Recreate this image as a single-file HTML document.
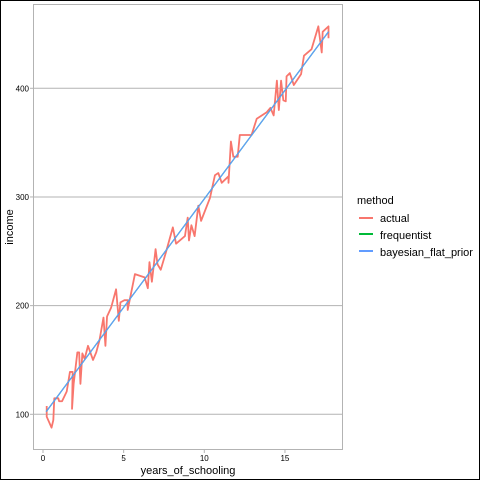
<!DOCTYPE html>
<html><head><meta charset="utf-8"><style>
body{margin:0;background:#fff}
svg{display:block;font-family:"Liberation Sans",Arial,sans-serif}
</style></head><body>
<svg id="chart" width="480" height="480">
<rect x="0.5" y="0.5" width="479" height="479" fill="#fff" stroke="#000"/>
<g id="grid"></g>
<rect x="33.5" y="4.5" width="309" height="445" fill="none" stroke="#b3b3b3"/>
<g id="marks"></g>
<g id="axes"></g>
<text x="188" y="474" font-size="11" fill="#000" text-anchor="middle">years_of_schooling</text>
<text transform="translate(13,227) rotate(-90)" font-size="11" fill="#000" text-anchor="middle">income</text>
<g>
<text x="357" y="204" font-size="11" fill="#000">method</text>
<line x1="359" y1="218" x2="373" y2="218" stroke="#F8766D" stroke-width="2"/>
<text x="380" y="222" font-size="11">actual</text>
<line x1="359" y1="234" x2="373" y2="234" stroke="#00BA38" stroke-width="2"/>
<text x="380" y="239" font-size="11">frequentist</text>
<line x1="359" y1="251" x2="373" y2="251" stroke="#619CFF" stroke-width="2"/>
<text x="380" y="256" font-size="11">bayesian_flat_prior</text>
</g>
</svg>
<script>
const actualX=[0.23,0.23,0.53,0.64,0.70,0.95,1.0,1.18,1.47,1.67,1.84,1.8,1.9,2.13,2.24,2.32,2.44,2.58,2.79,3.1,3.3,3.5,3.75,3.87,3.97,4.22,4.53,4.7,4.8,5.05,5.25,5.25,5.4,5.7,6.3,6.5,6.6,6.75,6.98,7.1,7.3,7.6,8.05,8.25,8.8,8.97,9.05,9.2,9.4,9.63,9.8,10.35,10.66,10.87,11.08,11.5,11.5,11.65,11.8,12.07,12.2,12.93,13.25,13.87,14.1,14.3,14.5,14.62,14.76,14.9,15.05,15.1,15.3,15.55,16.0,16.18,16.65,17.07,17.28,17.34,17.7,17.7];
const actualY=[107.6,97.8,87.7,94.7,114.7,114.7,112,112,121,139,139,105,128,157,157,128,156,151,163,150,157,168,189,163,190,198,215,186,203,205,205,196,207,229,226,216,240,222,252,238,233,248,272,257,264,281,260,274,264,292,278,299,320,322,313,319,313,351,337,337,357,357,372,378,382,375,407,380,407,389,388,411,414,403,413,430,436,457,433,452,457,446];
const fitX=[0.2,17.7];
const freqY=[102.5,452];
const bayesY=[102.5,452];
const xTicks=[0,5,10,15];
const yTicks=[100,200,300,400];
const xs=v=>43+v*16.13;
const ys=v=>414.3-(v-100)*1.0867;
const NS="http://www.w3.org/2000/svg";
function mk(tag,attrs,parent){const e=document.createElementNS(NS,tag);for(const k in attrs)e.setAttribute(k,attrs[k]);parent.appendChild(e);return e;}
const grid=document.getElementById('grid'),marks=document.getElementById('marks'),axes=document.getElementById('axes');
yTicks.forEach(t=>{
 const l=mk('line',{x1:33.5,x2:342.5,y1:ys(t),y2:ys(t),stroke:'#b3b3b3','stroke-width':1},grid);
 
 
 const tk=mk('line',{x1:30,x2:33.5,y1:ys(t),y2:ys(t),stroke:'#b3b3b3'},axes);
 
 
 const tx=mk('text',{x:29,y:ys(t)+3,'font-size':8,'text-anchor':'end',fill:'#000'},axes);
 tx.textContent=t;
 
 
});
xTicks.forEach(t=>{
 const tk=mk('line',{x1:xs(t),x2:xs(t),y1:449.5,y2:453,stroke:'#b3b3b3'},axes);
 
 
 const tx=mk('text',{x:xs(t),y:461,'font-size':8,'text-anchor':'middle',fill:'#000'},axes);
 tx.textContent=t;
 
 
});
function line(X,Y,color,name,w){
 const p=mk('polyline',{points:X.map((x,i)=>xs(x)+','+ys(Y[i])).join(' '),fill:'none',stroke:color,'stroke-width':w,'stroke-linejoin':'round'},marks);
 
 
}
line(actualX,actualY,'#F8766D','actual-line',1.8);
line(fitX,freqY,'#00BA38','frequentist-line',1.2);
line(fitX,bayesY,'#619CFF','bayesian-flat-prior-line',1.2);
</script>
</body></html>
